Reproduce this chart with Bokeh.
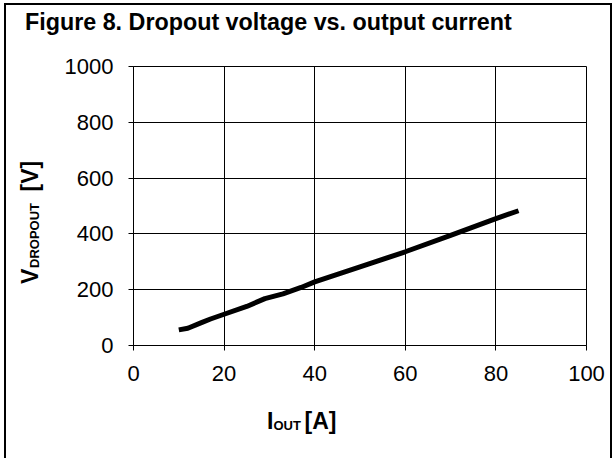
from bokeh.plotting import figure
from bokeh.models import Range1d, FixedTicker, Label
from bokeh.embed import file_html
from bokeh.resources import INLINE
import math

# ---- data ----
i_out = [10, 12, 15, 17, 20, 25, 29, 33, 37, 40, 50, 60, 70, 80, 85]
v_drop = [56, 62, 82, 95, 112, 140, 168, 185, 208, 228, 282, 336, 395, 455, 483]
x_ticks = [0, 20, 40, 60, 80, 100]
y_ticks = [0, 200, 400, 600, 800, 1000]
title_text = "Figure 8. Dropout voltage vs. output current"

# ---- layout ----
W, H = 604, 453
ML, MR, MT, MB = 127, 24, 61, 113
FW = W - ML - MR
FH = H - MT - MB
X0, X1 = 0, 100
Y0, Y1 = 0, 1000
CX, CY = 6, 5   # canvas origin on page
K = 0.35        # baseline correction, in em

def dx(px):
    return X0 + (px - CX - ML) * (X1 - X0) / FW

def dy(py):
    return Y0 + (CY + MT + FH - py) * (Y1 - Y0) / FH

p = figure(width=W, height=H, output_backend="svg", toolbar_location=None,
           x_range=Range1d(X0, X1), y_range=Range1d(Y0, Y1),
           min_border_left=ML, min_border_right=MR, min_border_top=MT, min_border_bottom=MB)
p.styles = {"margin-left": f"{CX}px", "margin-top": f"{CY}px",
            "box-shadow": "0 0 0 2px black"}
p.background_fill_color = "white"
p.border_fill_color = "white"
p.outline_line_color = "black"
p.outline_line_width = 1

F = "Liberation Sans"

for ax, ticks in ((p.xaxis, x_ticks), (p.yaxis, y_ticks)):
    ax.ticker = FixedTicker(ticks=ticks)
    ax.major_tick_out = 5
    ax.major_tick_in = 0
    ax.minor_tick_line_color = None
    ax.axis_line_color = "black"
    ax.major_tick_line_color = "black"
    ax.major_label_text_font = F
    ax.major_label_text_font_size = "22px"
    ax.major_label_text_color = "black"
p.xaxis.major_label_standoff = 15
p.yaxis.major_label_standoff = 15

for g in (p.xgrid, p.ygrid):
    g.grid_line_color = "black"
    g.grid_line_alpha = 1
    g.grid_line_width = 1

p.line(i_out, v_drop, line_color="black", line_width=5, line_join="round")


def lab(text, px, py, size, side, rotated=False):
    # labels live in side panels (unclipped); position is given in data units
    s = K * size
    if rotated:
        px -= s
    else:
        py -= s
    p.add_layout(Label(x=dx(px), y=dy(py), text=text, text_font=F,
                       text_font_size=f"{size}px", text_font_style="bold",
                       text_color="black", text_align="left",
                       text_baseline="alphabetic",
                       angle=math.pi / 2 if rotated else 0.0), side)

# title
lab(title_text, 24.5, 30, 23.3, "above")
# x axis label: I_OUT [A]
lab("I", 266.5, 428.5, 23, "below")
lab("OUT", 273, 429.5, 13, "above")
lab("[A]", 304, 428.5, 23, "below")
# y axis label (rotated): V_DROPOUT [V]
lab("V", 38, 283.5, 23, "above", True)
lab("DROPOUT", 39, 267.5, 13, "right", True)
lab("[V]", 38, 191, 23, "left", True)

open("out.html", "w").write(file_html(p, INLINE))
